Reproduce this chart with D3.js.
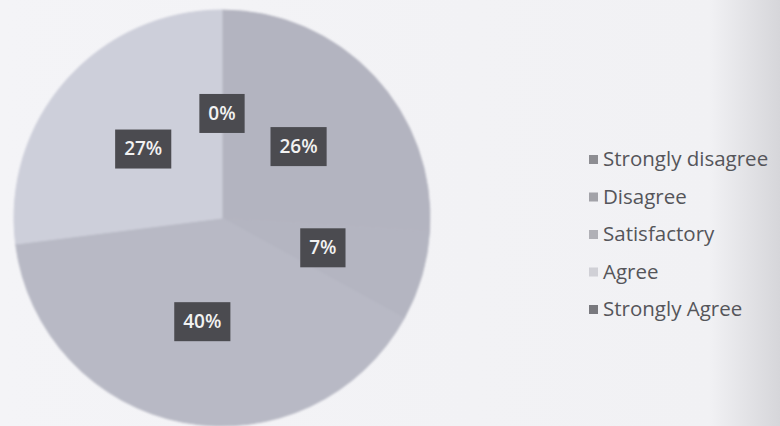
<!DOCTYPE html>
<html>
<head>
<meta charset="utf-8">
<script src="https://cdn.jsdelivr.net/npm/d3@7"></script>
<style>
  body { margin: 0; background: #f3f3f6; }
  svg { display: block; }
</style>
</head>
<body>
<svg id="chart" width="780" height="426"></svg>
<script>
// answer categories and shares (percent)
const categories = ["Strongly disagree", "Disagree", "Satisfactory", "Agree", "Strongly Agree"];
const shares = [0, 26, 7, 40, 27];
const sliceColors = ["#b1b2be", "#b3b4c0", "#b4b5c1", "#b8b9c5", "#cdcfda"];
const legendColors = ["#8d8d92", "#a2a2a8", "#b0b0b6", "#d0d0d6", "#79797e"];

const svg = d3.select("#chart");
const width = 780, height = 426;
const cx = 222, cy = 218, radius = 208;

// background with darker shading at right edge (scan look)
const defs = svg.append("defs");
const grad = defs.append("linearGradient").attr("id", "bg").attr("x1", 0).attr("x2", 1);
grad.append("stop").attr("offset", "0%").attr("stop-color", "#f4f4f7");
grad.append("stop").attr("offset", "91%").attr("stop-color", "#f1f1f4");
grad.append("stop").attr("offset", "100%").attr("stop-color", "#d6d6da");
svg.append("rect").attr("width", width).attr("height", height).attr("fill", "url(#bg)");

defs.append("filter").attr("id", "soft")
    .append("feGaussianBlur").attr("stdDeviation", 1.2);

const pie = d3.pie().sort(null).value(d => d.value);
const arcs = pie(categories.map((c, i) => ({ name: c, value: shares[i], color: sliceColors[i] })));

const arc = d3.arc().innerRadius(0).outerRadius(radius);
const labelArc = d3.arc().innerRadius(radius * 0.505).outerRadius(radius * 0.505);

const g = svg.append("g").attr("transform", `translate(${cx},${cy})`);

// blur the slices together so the seams stay soft, like the scan
g.append("g")
    .attr("filter", "url(#soft)")
    .selectAll("path.slice")
    .data(arcs)
    .join("path")
    .attr("class", "slice")
    .attr("d", arc)
    .attr("fill", d => d.data.color)
    .attr("stroke", d => d.data.color)
    .attr("stroke-width", 1);

// data labels in dark boxes
const labels = g.selectAll("g.lbl")
    .data(arcs)
    .join("g")
    .attr("class", "lbl")
    .attr("transform", d => `translate(${labelArc.centroid(d)})`);

labels.append("text")
    .attr("text-anchor", "middle")
    .attr("dy", "0.36em")
    .style("font-family", "'Open Sans', sans-serif")
    .style("font-weight", "600")
    .style("font-size", "19px")
    .attr("fill", "#f2f2f2")
    .text(d => d.data.value + "%");

labels.each(function() {
    const gg = d3.select(this);
    const bb = gg.select("text").node().getBBox();
    gg.insert("rect", "text")
        .attr("x", bb.x - 9)
        .attr("y", -19)
        .attr("width", bb.width + 18)
        .attr("height", 39)
        .attr("fill", "#4b4b50");
});

// legend
const legend = svg.append("g").attr("transform", "translate(589, 159)");
const item = legend.selectAll("g")
    .data(categories)
    .join("g")
    .attr("transform", (d, i) => `translate(0, ${i * 37.5})`);

item.append("rect")
    .attr("x", 0).attr("y", -4)
    .attr("width", 9).attr("height", 9)
    .attr("fill", (d, i) => legendColors[i]);

item.append("text")
    .attr("x", 14)
    .attr("dy", "0.36em")
    .style("font-family", "'Open Sans', sans-serif")
    .style("font-size", "20.5px")
    .attr("fill", "#55555a")
    .text(d => d);
</script>
</body>
</html>
